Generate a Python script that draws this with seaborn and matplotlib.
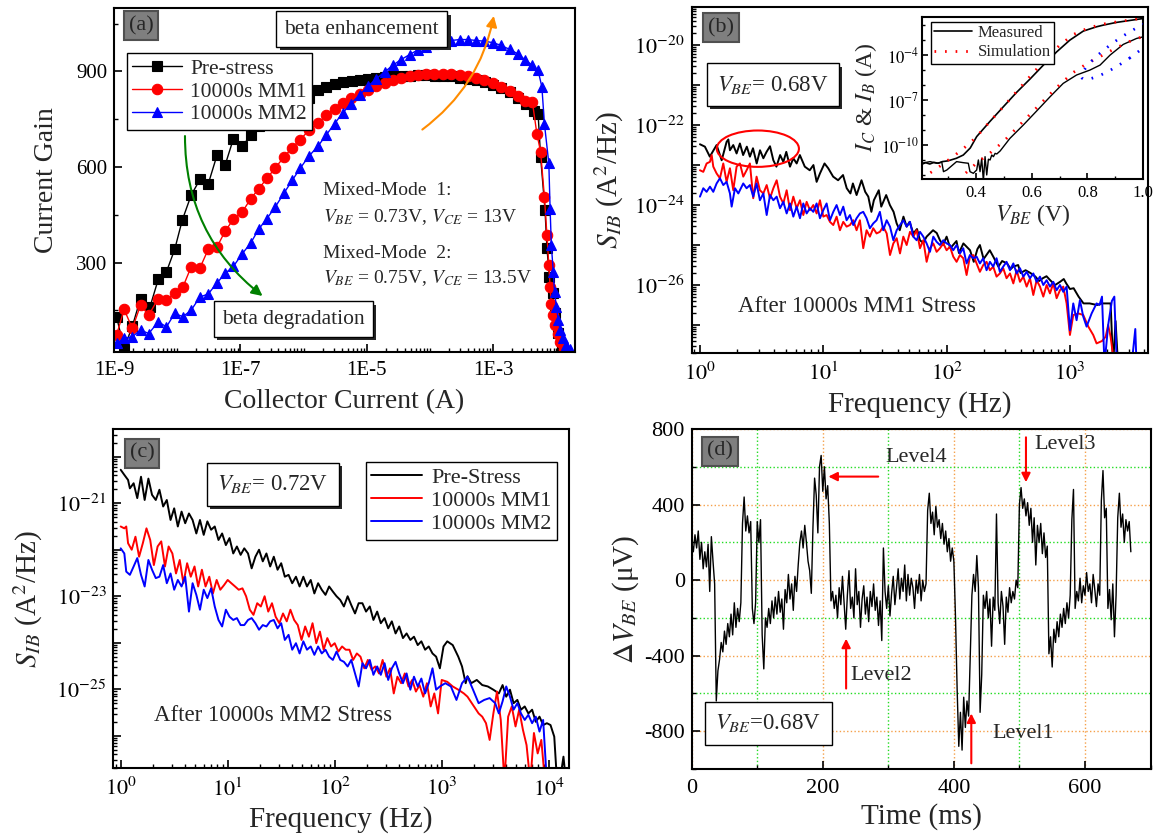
import numpy as np
import matplotlib
matplotlib.use("Agg")
import matplotlib.pyplot as plt
import seaborn as sns
from matplotlib.patches import Ellipse, FancyArrowPatch
from matplotlib import patheffects as pe
from matplotlib.ticker import (FixedLocator, LogLocator, NullFormatter,
                               MultipleLocator, FuncFormatter, AutoMinorLocator)

# ---------------- data: panel (a) current gain vs collector current ----------------
logI_pre = [-8.96, -8.84, -8.71, -8.58, -8.43, -8.30, -8.17, -8.04, -7.92, -7.78,
            -7.64, -7.51, -7.37, -7.24, -7.11, -6.97, -6.84, -6.71, -6.58, -6.45,
            -6.32, -6.19, -6.05, -5.92, -5.77, -5.64, -5.51, -5.38, -5.24, -5.11,
            -4.98, -4.85, -4.72, -4.58, -4.45, -4.32, -4.19, -4.05, -3.92, -3.79,
            -3.66, -3.52, -3.39, -3.26, -3.13, -3.00, -2.87, -2.74, -2.61, -2.48,
            -2.35, -2.29, -2.25, -2.18, -2.15, -2.11, -2.06, -2.03, -1.98, -1.91]
gain_pre = [130, 30, 100, 187, 161, 247, 271, 341, 433, 511,
            561, 546, 637, 607, 689, 665, 699, 730, 750, 770,
            785, 800, 810, 817, 843, 852, 860, 866, 870, 874,
            877, 880, 882, 884, 886, 887, 888, 888, 887, 886,
            884, 880, 876, 872, 866, 858, 848, 835, 818, 798,
            776, 767, 631, 464, 345, 255, 204, 140, 78, 35]

logI_mm1 = [-8.96, -8.84, -8.71, -8.58, -8.45, -8.30, -8.17, -8.04, -7.91, -7.78,
            -7.64, -7.51, -7.37, -7.24, -7.11, -6.97, -6.84, -6.71, -6.58, -6.45,
            -6.31, -6.18, -6.05, -5.92, -5.77, -5.64, -5.51, -5.38, -5.25, -5.11,
            -4.98, -4.85, -4.72, -4.59, -4.46, -4.32, -4.19, -4.06, -3.93, -3.80,
            -3.67, -3.53, -3.40, -3.27, -3.14, -3.00, -2.88, -2.74, -2.61, -2.50,
            -2.38, -2.31, -2.25, -2.19, -2.15, -2.12, -2.10, -2.08, -2.05, -2.02,
            -1.98, -1.94, -1.88]
gain_mm1 = [72, 153, 93, 166, 135, 187, 182, 203, 223, 286,
            283, 341, 349, 399, 436, 459, 499, 532, 564, 597,
            631, 661, 686, 715, 738, 762, 783, 801, 817, 830,
            843, 854, 863, 872, 879, 884, 888, 892, 893, 893,
            892, 888, 884, 879, 872, 863, 852, 839, 823, 807,
            804, 705, 647, 506, 386, 292, 224, 171, 135, 103,
            77, 51, 30]

logI_mm2 = [-8.96, -8.84, -8.71, -8.58, -8.45, -8.30, -8.17, -8.04, -7.91, -7.78,
            -7.64, -7.51, -7.37, -7.24, -7.11, -6.97, -6.84, -6.71, -6.58, -6.45,
            -6.31, -6.18, -6.05, -5.92, -5.77, -5.64, -5.51, -5.38, -5.25, -5.11,
            -4.98, -4.85, -4.72, -4.59, -4.46, -4.32, -4.19, -4.06, -3.93, -3.80,
            -3.67, -3.53, -3.40, -3.27, -3.14, -3.00, -2.88, -2.74, -2.61, -2.50,
            -2.38, -2.29, -2.23, -2.19, -2.12, -2.10, -2.08, -2.05, -2.03, -2.00,
            -1.97, -1.94, -1.90, -1.85, -1.79]
gain_mm2 = [46, 62, 67, 88, 77, 114, 98, 140, 130, 150,
            192, 201, 236, 266, 288, 328, 360, 405, 438, 474,
            518, 558, 597, 633, 666, 701, 736, 770, 799, 827,
            853, 877, 898, 919, 937, 953, 968, 978, 987, 994,
            997, 1000, 1000, 997, 995, 990, 982, 969, 955, 937,
            919, 903, 851, 736, 611, 469, 354, 271, 208, 161,
            119, 88, 62, 41, 27]

# ---------------- data: panel (b) noise spectra at VBE=0.68V (log10 f, log10 S) ----------------
lf_b_pre = [0.00, 0.04, 0.08, 0.11, 0.135, 0.176, 0.216, 0.23, 0.243, 0.27,
            0.297, 0.324, 0.35, 0.38, 0.405, 0.43, 0.46, 0.487, 0.514, 0.54,
            0.568, 0.595, 0.62, 0.65, 0.676, 0.70, 0.73, 0.757, 0.784, 0.81,
            0.85, 0.89, 0.92, 0.946, 0.973, 1.01, 1.04, 1.08, 1.12, 1.16,
            1.19, 1.22, 1.24, 1.27, 1.31, 1.34, 1.365, 1.39, 1.41, 1.45,
            1.47, 1.51, 1.54, 1.57, 1.595, 1.62, 1.65, 1.676, 1.70, 1.73,
            1.76, 1.784, 1.81, 1.838, 1.89, 1.92, 1.946, 1.97, 2.00, 2.03,
            2.08, 2.10, 2.136, 2.19, 2.22, 2.25, 2.27, 2.30, 2.35, 2.38,
            2.42, 2.45, 2.49, 2.52, 2.54, 2.58, 2.60, 2.64, 2.68, 2.72,
            2.75, 2.78, 2.81, 2.84, 2.88, 2.92, 2.95, 2.97, 3.00, 3.03,
            3.07, 3.11, 3.16, 3.22, 3.26, 3.30, 3.33, 3.35, 3.37, 3.39]
ls_b_pre = [-22.48, -22.54, -22.79, -22.63, -22.50, -22.88, -22.42, -22.36, -22.63, -22.50,
            -22.71, -22.46, -22.75, -22.54, -22.79, -22.58, -22.96, -22.63, -22.83, -22.67,
            -22.53, -22.88, -23.04, -22.75, -22.92, -22.67, -23.04, -22.83, -22.96, -22.75,
            -23.04, -23.13, -23.00, -23.42, -23.21, -22.96, -23.08, -23.29, -23.38, -23.25,
            -23.58, -23.71, -23.46, -23.75, -23.38, -23.67, -23.79, -24.17, -23.88, -23.63,
            -24.04, -23.75, -24.00, -24.17, -24.46, -24.63, -24.29, -24.54, -24.42, -24.71,
            -24.60, -24.88, -24.95, -24.79, -24.63, -24.70, -24.88, -25.00, -24.79, -25.08,
            -24.90, -25.20, -24.96, -25.13, -25.42, -25.10, -25.00, -25.35, -25.13, -25.30,
            -25.54, -25.40, -25.46, -25.60, -25.54, -25.50, -25.70, -25.63, -25.70, -25.79,
            -25.90, -25.83, -25.78, -25.88, -26.00, -25.92, -25.85, -25.96, -26.10, -26.08,
            -26.29, -26.46, -26.46, -26.50, -26.46, -26.46, -26.46, -28.00, -26.90, -28.00]

lf_b_mm1 = [0.000, 0.027, 0.054, 0.081, 0.095, 0.108, 0.135, 0.162, 0.189, 0.216,
            0.243, 0.270, 0.297, 0.324, 0.351, 0.378, 0.405, 0.432, 0.459, 0.486,
            0.514, 0.541, 0.568, 0.595, 0.622, 0.649, 0.676, 0.703, 0.730, 0.757,
            0.784, 0.811, 0.838, 0.865, 0.892, 0.919, 0.946, 0.973, 1.000, 1.027,
            1.054, 1.081, 1.108, 1.135, 1.162, 1.189, 1.216, 1.243, 1.270, 1.297,
            1.324, 1.351, 1.378, 1.405, 1.432, 1.459, 1.486, 1.514, 1.541, 1.568,
            1.595, 1.622, 1.649, 1.676, 1.703, 1.730, 1.757, 1.784, 1.811, 1.838,
            1.865, 1.892, 1.919, 1.946, 1.973, 2.000, 2.027, 2.054, 2.081, 2.108,
            2.135, 2.162, 2.189, 2.216, 2.243, 2.270, 2.297, 2.324, 2.351, 2.378,
            2.405, 2.432, 2.459, 2.486, 2.514, 2.541, 2.568, 2.595, 2.622, 2.649,
            2.676, 2.703, 2.730, 2.757, 2.784, 2.811, 2.838, 2.865, 2.892, 2.919,
            2.946, 2.973, 3.000, 3.027, 3.068, 3.108, 3.149, 3.189, 3.216, 3.260,
            3.290, 3.310, 3.330, 3.360]
ls_b_mm1 = [-23.13, -23.17, -22.96, -22.92, -22.75, -23.04, -23.21, -23.33, -22.96, -23.42,
            -23.08, -23.63, -23.04, -22.96, -23.29, -23.13, -22.96, -23.83, -23.29, -23.63,
            -23.71, -23.50, -23.83, -23.58, -23.38, -23.79, -23.96, -23.63, -24.13, -23.79,
            -24.08, -23.88, -24.25, -23.92, -24.13, -24.00, -24.21, -23.88, -24.29, -24.25,
            -24.42, -24.50, -24.29, -24.63, -24.42, -24.54, -24.50, -24.38, -24.63, -24.38,
            -25.08, -24.63, -24.79, -24.58, -24.71, -24.67, -24.54, -24.71, -25.25, -24.96,
            -24.83, -25.21, -24.79, -25.00, -24.67, -24.79, -24.63, -25.08, -24.88, -25.42,
            -25.08, -24.96, -25.17, -25.08, -24.96, -25.13, -25.04, -25.29, -25.42, -25.25,
            -25.33, -25.75, -25.29, -25.25, -25.46, -25.67, -25.50, -25.42, -25.63, -25.54,
            -25.79, -25.71, -25.58, -25.83, -25.71, -25.96, -25.63, -25.92, -25.79, -26.04,
            -25.83, -26.25, -25.88, -26.04, -26.29, -26.00, -26.21, -25.96, -26.33, -26.13,
            -26.04, -26.46, -27.25, -26.75, -26.71, -26.75, -27.04, -27.25, -27.46, -27.40,
            -27.29, -27.00, -27.30, -28.00]

lf_b_mm2 = [0.000, 0.027, 0.054, 0.081, 0.108, 0.135, 0.162, 0.189, 0.216, 0.243,
            0.257, 0.284, 0.311, 0.351, 0.378, 0.405, 0.432, 0.459, 0.486, 0.514,
            0.541, 0.568, 0.595, 0.622, 0.649, 0.676, 0.703, 0.730, 0.757, 0.784,
            0.811, 0.838, 0.865, 0.892, 0.919, 0.946, 0.973, 1.000, 1.027, 1.054,
            1.081, 1.108, 1.135, 1.162, 1.189, 1.216, 1.243, 1.270, 1.297, 1.324,
            1.351, 1.378, 1.405, 1.432, 1.459, 1.486, 1.514, 1.541, 1.568, 1.595,
            1.622, 1.649, 1.676, 1.703, 1.730, 1.757, 1.784, 1.811, 1.838, 1.865,
            1.892, 1.919, 1.946, 1.973, 2.000, 2.027, 2.054, 2.081, 2.108, 2.135,
            2.162, 2.189, 2.216, 2.243, 2.270, 2.297, 2.324, 2.351, 2.378, 2.405,
            2.432, 2.459, 2.486, 2.514, 2.541, 2.568, 2.595, 2.622, 2.649, 2.676,
            2.703, 2.730, 2.757, 2.784, 2.811, 2.838, 2.865, 2.892, 2.919, 2.946,
            2.973, 3.000, 3.027, 3.054, 3.081, 3.108, 3.135, 3.176, 3.216, 3.240,
            3.260, 3.280, 3.310, 3.340, 3.360, 3.380, 3.500, 3.530, 3.540]
ls_b_mm2 = [-23.79, -23.58, -23.67, -23.54, -23.67, -23.46, -23.33, -23.50, -23.42, -23.71,
            -24.04, -23.58, -23.71, -23.46, -23.58, -23.50, -23.79, -23.46, -23.88, -23.71,
            -24.25, -23.75, -23.88, -23.79, -24.08, -23.92, -24.21, -23.96, -24.29, -24.04,
            -24.33, -23.96, -24.21, -24.08, -24.17, -23.96, -24.33, -24.13, -23.96, -24.38,
            -24.17, -24.00, -24.25, -24.04, -24.38, -24.25, -24.50, -24.33, -24.21, -24.17,
            -24.33, -24.58, -24.46, -24.38, -24.17, -24.63, -24.38, -24.54, -24.88, -24.63,
            -24.50, -24.38, -24.54, -24.42, -24.79, -24.88, -24.67, -24.79, -24.96, -25.17,
            -24.79, -24.92, -25.00, -24.88, -24.96, -25.00, -25.13, -25.00, -25.21, -25.08,
            -25.46, -25.25, -25.33, -25.29, -25.46, -25.33, -25.63, -25.42, -25.54, -25.33,
            -25.67, -25.54, -25.42, -25.63, -25.46, -25.71, -25.58, -25.79, -25.67, -25.83,
            -25.71, -25.92, -25.79, -26.00, -25.88, -26.04, -25.92, -26.13, -26.00, -26.17,
            -26.04, -27.13, -26.46, -26.88, -26.38, -26.79, -27.04, -26.71, -26.46, -26.50,
            -26.29, -28.00, -27.00, -26.40, -26.29, -28.00, -28.00, -27.10, -28.00]

# inset of (b): Gummel plot (VBE in V, log10 current in A)
vbe_ic_meas = [0.206, 0.22, 0.235, 0.25, 0.265, 0.28, 0.30, 0.33, 0.355, 0.38,
               0.403, 0.45, 0.499, 0.546, 0.594, 0.642, 0.69, 0.737, 0.785, 0.833,
               0.857, 0.904, 0.952, 1.0]
logic_meas = [-11.29, -11.18, -11.27, -11.16, -11.22, -11.11, -11.06, -10.89, -10.67, -10.2,
              -9.44, -8.44, -7.44, -6.49, -5.60, -4.67, -3.78, -3.00, -2.40, -2.11,
              -2.00, -1.82, -1.69, -1.56]
vbe_ib_meas = [0.206, 0.236, 0.26, 0.278, 0.284, 0.296, 0.331, 0.355, 0.373, 0.379,
               0.391, 0.403, 0.409, 0.415, 0.421, 0.427, 0.433, 0.439, 0.445, 0.451,
               0.457, 0.463, 0.469, 0.475, 0.487, 0.522, 0.57, 0.618, 0.666, 0.713,
               0.761, 0.809, 0.845, 0.881, 0.928, 0.976, 1.0]
logib_meas = [-11.22, -11.11, -11.22, -11.15, -11.78, -11.67, -11.11, -11.18, -11.22, -11.78,
              -11.89, -11.67, -11.00, -11.78, -10.89, -12.40, -10.78, -12.00, -10.95, -11.00,
              -10.67, -10.78, -10.56, -10.60, -10.40, -9.56, -8.67, -7.73, -6.78, -5.89,
              -5.33, -5.00, -4.67, -4.00, -3.29, -2.89, -2.78]
vbe_sim = [0.206, 0.22, 0.25, 0.28, 0.30, 0.32, 0.35, 0.38, 0.403, 0.45,
           0.50, 0.55, 0.60, 0.65, 0.70, 0.75, 0.80, 0.85, 0.90, 0.95, 1.0]
logic_sim = [-12.25, -12.05, -11.70, -11.30, -11.02, -10.75, -10.32, -9.85, -9.44, -8.44,
             -7.42, -6.35, -5.30, -4.28, -3.35, -2.62, -2.22, -1.95, -1.80, -1.67, -1.53]
logib_sim = [-14.9, -14.6, -14.0, -13.4, -13.0, -12.6, -12.1, -11.6, -11.2, -10.55,
             -9.75, -8.80, -7.85, -6.90, -5.98, -5.15, -4.55, -4.05, -3.55, -3.10, -2.75]

# ---------------- data: panel (c) noise spectra at VBE=0.72V ----------------
lf_c_pre = [0.000, 0.034, 0.069, 0.086, 0.121, 0.155, 0.190, 0.224, 0.259, 0.293,
            0.328, 0.362, 0.397, 0.431, 0.466, 0.500, 0.534, 0.569, 0.603, 0.638,
            0.672, 0.707, 0.741, 0.776, 0.810, 0.845, 0.879, 0.914, 0.948, 0.983,
            1.017, 1.052, 1.086, 1.121, 1.155, 1.190, 1.224, 1.259, 1.293, 1.328,
            1.362, 1.397, 1.431, 1.466, 1.500, 1.534, 1.569, 1.603, 1.638, 1.672,
            1.707, 1.741, 1.776, 1.810, 1.845, 1.879, 1.914, 1.948, 1.983, 2.017,
            2.052, 2.086, 2.121, 2.155, 2.190, 2.224, 2.259, 2.293, 2.328, 2.362,
            2.397, 2.431, 2.466, 2.500, 2.534, 2.569, 2.603, 2.638, 2.672, 2.707,
            2.741, 2.776, 2.810, 2.845, 2.879, 2.914, 2.948, 2.983, 3.017, 3.052,
            3.103, 3.155, 3.190, 3.224, 3.241, 3.276, 3.328, 3.379, 3.431, 3.483,
            3.534, 3.569, 3.603, 3.638, 3.672, 3.707, 3.741, 3.776, 3.810, 3.845,
            3.879, 3.914, 3.948, 3.983, 4.017, 4.052, 4.069, 4.103, 4.138, 4.162]
ls_c_pre = [-20.28, -20.39, -20.50, -20.68, -20.57, -20.89, -20.43, -20.93, -20.47, -20.82,
            -20.93, -20.71, -21.07, -20.93, -21.36, -21.11, -21.50, -21.18, -21.43, -21.22,
            -21.36, -21.65, -21.36, -21.68, -21.39, -21.57, -21.50, -21.79, -21.65, -21.90,
            -21.75, -22.08, -21.93, -22.11, -21.97, -22.08, -22.40, -22.15, -22.00, -22.25,
            -22.08, -22.36, -22.15, -22.43, -22.29, -22.58, -22.54, -22.72, -22.58, -22.79,
            -22.58, -22.79, -22.65, -22.94, -22.72, -22.86, -22.97, -22.79, -22.90, -23.00,
            -23.08, -23.22, -23.00, -23.19, -23.37, -23.15, -23.15, -23.33, -23.22, -23.51,
            -23.33, -23.58, -23.47, -23.69, -23.54, -23.80, -23.65, -23.90, -23.80, -23.94,
            -23.87, -24.05, -23.97, -24.15, -24.08, -24.23, -24.30, -24.55, -24.08, -23.97,
            -24.05, -24.30, -24.51, -24.87, -24.72, -24.87, -24.80, -24.91, -24.94, -25.01,
            -25.09, -24.91, -25.16, -25.01, -25.30, -25.23, -25.44, -25.37, -25.52, -25.44,
            -25.70, -25.59, -25.77, -25.73, -25.77, -26.02, -26.66, -27.00, -26.45, -27.00]

lf_c_mm1 = [0.000, 0.034, 0.052, 0.069, 0.103, 0.138, 0.172, 0.207, 0.241, 0.276,
            0.310, 0.345, 0.379, 0.414, 0.448, 0.483, 0.517, 0.552, 0.586, 0.621,
            0.655, 0.690, 0.724, 0.759, 0.793, 0.828, 0.862, 0.897, 0.931, 0.966,
            1.000, 1.034, 1.069, 1.103, 1.138, 1.172, 1.207, 1.241, 1.276, 1.310,
            1.345, 1.379, 1.414, 1.448, 1.483, 1.517, 1.552, 1.586, 1.621, 1.655,
            1.690, 1.724, 1.759, 1.793, 1.828, 1.862, 1.897, 1.931, 1.966, 2.000,
            2.034, 2.069, 2.103, 2.138, 2.172, 2.207, 2.241, 2.276, 2.310, 2.345,
            2.379, 2.414, 2.448, 2.483, 2.517, 2.552, 2.586, 2.621, 2.655, 2.690,
            2.724, 2.759, 2.793, 2.828, 2.862, 2.897, 2.931, 2.966, 3.000, 3.052,
            3.103, 3.155, 3.207, 3.241, 3.293, 3.345, 3.379, 3.414, 3.448, 3.483,
            3.517, 3.552, 3.586, 3.621, 3.655, 3.690, 3.724, 3.759, 3.793, 3.828,
            3.862, 3.897, 3.931, 3.966]
ls_c_mm1 = [-21.50, -21.54, -21.50, -21.86, -22.00, -21.72, -22.15, -21.86, -21.54, -21.79,
            -22.33, -21.93, -21.82, -22.36, -21.93, -22.08, -22.51, -22.22, -22.72, -22.29,
            -22.58, -22.36, -22.79, -22.43, -22.79, -22.58, -22.94, -22.65, -22.86, -22.76,
            -22.65, -22.72, -22.79, -22.86, -22.83, -23.00, -23.29, -23.40, -23.15, -23.22,
            -23.00, -23.33, -23.15, -23.44, -23.58, -23.37, -23.54, -23.29, -23.51, -23.62,
            -23.94, -23.65, -23.87, -23.58, -24.01, -23.76, -24.15, -23.90, -24.08, -24.01,
            -24.19, -24.08, -24.15, -24.15, -24.37, -24.23, -24.30, -24.55, -24.37, -24.58,
            -24.51, -24.66, -24.37, -24.73, -24.55, -25.09, -24.73, -24.87, -24.66, -24.94,
            -24.80, -25.05, -24.91, -25.16, -24.87, -25.37, -25.09, -25.52, -24.80, -24.84,
            -24.94, -25.01, -25.09, -25.16, -25.34, -25.52, -25.59, -25.73, -26.09, -25.52,
            -25.05, -25.66, -27.00, -25.59, -25.37, -25.80, -25.44, -25.87, -26.20, -27.00,
            -25.94, -26.38, -26.09, -27.00]

lf_c_mm2 = [0.000, 0.034, 0.052, 0.086, 0.121, 0.155, 0.190, 0.224, 0.259, 0.293,
            0.328, 0.362, 0.397, 0.431, 0.466, 0.500, 0.534, 0.569, 0.603, 0.638,
            0.672, 0.707, 0.741, 0.776, 0.810, 0.845, 0.879, 0.914, 0.948, 0.983,
            1.017, 1.052, 1.086, 1.121, 1.155, 1.190, 1.224, 1.259, 1.293, 1.328,
            1.362, 1.397, 1.431, 1.466, 1.500, 1.534, 1.569, 1.603, 1.638, 1.672,
            1.707, 1.741, 1.776, 1.810, 1.845, 1.879, 1.914, 1.948, 1.983, 2.017,
            2.052, 2.086, 2.121, 2.155, 2.190, 2.224, 2.259, 2.293, 2.328, 2.362,
            2.397, 2.431, 2.466, 2.500, 2.534, 2.569, 2.603, 2.638, 2.672, 2.707,
            2.741, 2.776, 2.810, 2.845, 2.879, 2.914, 2.948, 2.983, 3.034, 3.086,
            3.138, 3.190, 3.241, 3.293, 3.345, 3.397, 3.448, 3.500, 3.534, 3.569,
            3.603, 3.638, 3.672, 3.707, 3.741, 3.776, 3.810, 3.845, 3.879, 3.914,
            3.948, 3.983]
ls_c_mm2 = [-21.97, -22.08, -22.47, -22.54, -22.36, -22.18, -22.54, -22.79, -22.22, -22.43,
            -22.61, -22.58, -22.33, -22.72, -22.51, -22.86, -22.65, -22.79, -22.58, -23.33,
            -22.72, -22.97, -23.29, -22.86, -23.04, -22.83, -23.22, -23.51, -23.65, -23.29,
            -23.44, -23.51, -23.47, -23.62, -23.62, -23.51, -23.47, -23.58, -23.72, -23.62,
            -23.65, -23.54, -23.51, -23.69, -23.58, -23.94, -23.83, -24.15, -24.01, -24.23,
            -23.97, -24.15, -24.08, -24.26, -24.08, -24.23, -24.15, -24.30, -24.37, -24.19,
            -24.37, -24.41, -24.51, -24.37, -24.66, -24.94, -24.44, -24.55, -24.37, -24.69,
            -24.51, -24.69, -24.44, -24.80, -24.55, -24.41, -24.66, -24.87, -24.66, -25.01,
            -24.73, -24.94, -24.77, -25.09, -24.87, -24.55, -25.01, -24.94, -24.87, -24.94,
            -25.23, -24.87, -24.73, -25.01, -25.30, -25.23, -25.19, -25.30, -25.52, -25.26,
            -24.94, -25.16, -25.44, -25.30, -25.52, -25.66, -25.55, -25.73, -25.59, -25.91,
            -25.66, -27.00]

# ---------------- data: panel (d) RTS trace ----------------
sample_period_ms = 2.5
dvbe_uV = [200, 150, 240, 170, 260, 110, 200, 60, 150, 70,
           190, -60, 230, 100, -20, -640, -480, -420, -330, -380,
           -270, -340, -230, -300, -180, -290, -120, -250, -150, -220,
           -120, 300, 440, 260, 340, 250, 310, -150, -230, -120,
           310, 200, 320, -290, -470, -200, -250, -150, -230, -110,
           -200, -90, -180, -60, -170, -100, -260, -50, -120, 30,
           -100, -20, -160, 20, -60, 80, 200, 260, 170, 290,
           200, 100, 50, -70, 280, 540, 450, 250, 600, 660,
           470, 600, 430, 500, 300, -110, -60, -150, -80, -200,
           -40, -130, 20, -120, -260, -80, 50, -150, -90, -200,
           60, -130, -60, -250, -100, -30, -180, -90, -220, -60,
           -140, -20, -160, -90, -240, -110, -320, 170, -60, -150,
           -30, -190, -70, 20, -130, -40, 60, -100, 10, -60,
           80, -110, 30, -80, 10, -40, -150, 0, -70, 30,
           -110, 0, -60, -20, 370, 460, 300, 360, 240, 390,
           280, 320, 220, 300, 190, 260, 150, 220, 100, 170,
           100, -200, -580, -880, -700, -900, -620, -780, -640, -720,
           -390, -80, 30, -60, 130, -40, -700, -500, -80, -150,
           -60, -200, -100, -350, -90, -160, 350, -120, -230, -60,
           -140, -340, -90, -170, -40, -120, -60, -100, 0, -40,
           400, 490, 380, 430, 340, 410, 290, 380, 200, 330,
           80, 290, 200, 300, 140, 250, 120, 180, -390, -300,
           -460, -260, -330, -220, -300, -180, -250, -150, -230, -120,
           -200, -80, 320, 480, -150, -60, -110, 10, -120, -30,
           -80, 40, -60, -20, -120, 30, -50, -140, -20, -80,
           420, 580, 330, 380, -150, -50, -210, -20, -300, -80,
           330, 460, 280, 350, 200, 320, 260, 310, 150]
level_labels = ["Level1", "Level2", "Level3", "Level4"]
legend_a = ["Pre-stress", "10000s MM1", "10000s MM2"]
legend_c = ["Pre-Stress", "10000s MM1", "10000s MM2"]

# ---------------- style ----------------
sns.set_theme(style="white")
plt.rcParams["font.family"] = ["Liberation Serif", "DejaVu Serif"]
plt.rcParams["mathtext.fontset"] = "stix"
plt.rcParams["axes.unicode_minus"] = False

W, H = 1158, 839
fig = plt.figure(figsize=(W / 100, H / 100), dpi=100)
fig.patch.set_facecolor("white")


def px_axes(l, t, r, b):
    return fig.add_axes([l / W, 1 - b / H, (r - l) / W, (b - t) / H])


def style(ax, fs):
    ax.set_facecolor("white")
    ax.grid(False)
    for s in ax.spines.values():
        s.set_visible(True)
        s.set_linewidth(1.5)
        s.set_color("black")
    ax.tick_params(which="both", direction="in", top=False, right=False,
                   left=True, bottom=True, colors="black", labelsize=fs)
    ax.tick_params(which="major", length=6, width=1.2)
    ax.tick_params(which="minor", length=3, width=1.0)


def panel_label(ax, x, y, s):
    ax.text(x, y, s, transform=ax.transAxes, fontsize=16, ha="center", va="center",
            bbox=dict(boxstyle="square,pad=0.22", fc="#7f7f7f", ec="#505050", lw=1.5),
            zorder=8)


def boxed(ax, x, y, s, fs, pad=0.35, shadow=True):
    t = ax.text(x, y, s, transform=ax.transAxes, fontsize=fs, ha="center", va="center",
                bbox=dict(boxstyle="square,pad=%g" % pad, fc="white", ec="black", lw=1.0),
                zorder=7)
    if shadow:
        t.get_bbox_patch().set_path_effects(
            [pe.withSimplePatchShadow(offset=(2.5, -2.5), shadow_rgbFace="0.15", alpha=1.0)])
    return t


def pow10_fmt(show):
    def f(v, p):
        e = int(round(np.log10(v)))
        return r"$10^{%d}$" % e if show(e) else ""
    return FuncFormatter(f)


# ================= panel (a) =================
axA = px_axes(114, 7.7, 575, 351.7)
style(axA, 15)
series_a = [(logI_pre, gain_pre, "black", "s"),
            (logI_mm1, gain_mm1, "red", "o"),
            (logI_mm2, gain_mm2, "blue", "^")]
for (lx, g, c, m), lab in zip(series_a, legend_a):
    sns.lineplot(x=10 ** np.array(lx), y=np.array(g, float), ax=axA, color=c, marker=m,
                 markersize=7.5, markeredgecolor=c, markeredgewidth=0.8, linewidth=1.0,
                 sort=False, estimator=None, label=lab)
axA.set_xscale("log")
axA.set_xlim(1e-9, 10 ** -1.706)
axA.set_ylim(20, 1100)
axA.xaxis.set_major_locator(FixedLocator([1e-9, 1e-7, 1e-5, 1e-3]))
axA.xaxis.set_major_formatter(FuncFormatter(lambda v, p: "1E%d" % int(round(np.log10(v)))))
axA.xaxis.set_minor_locator(LogLocator(base=10, subs=np.arange(1, 10), numticks=100))
axA.xaxis.set_minor_formatter(NullFormatter())
axA.yaxis.set_major_locator(MultipleLocator(300))
axA.yaxis.set_minor_locator(AutoMinorLocator(2))
axA.tick_params(axis="x", which="both", pad=7)
axA.tick_params(axis="y", which="both", pad=5)
axA.set_xlabel("Collector Current (A)", fontsize=20, labelpad=6)
axA.set_ylabel("Current Gain", fontsize=20, labelpad=12)
legA = axA.legend(loc="upper left", bbox_to_anchor=(0.028, 0.867), borderaxespad=0,
                  fontsize=15.5, frameon=True, fancybox=False, edgecolor="black",
                  framealpha=1, handlelength=2.3, handletextpad=0.4, labelspacing=0.12,
                  borderpad=0.25)
legA.get_frame().set_linewidth(1.0)
panel_label(axA, 0.059, 0.947, "(a)")
boxed(axA, 0.537, 0.938, "beta enhancement", 15.5, pad=0.38)
boxed(axA, 0.389, 0.095, "beta degradation", 15.5, pad=0.38)
axA.add_patch(FancyArrowPatch((0.154, 0.635), (0.327, 0.157), transform=axA.transAxes,
                              connectionstyle="arc3,rad=0.25", arrowstyle="-|>",
                              mutation_scale=16, color="#008000", lw=1.5, zorder=6))
axA.add_patch(FancyArrowPatch((0.664, 0.641), (0.825, 0.984), transform=axA.transAxes,
                              connectionstyle="arc3,rad=0.2", arrowstyle="-|>",
                              mutation_scale=16, color="#ff8c00", lw=1.5, zorder=6))
axA.text(0.454, 0.468, "Mixed-Mode  1:", transform=axA.transAxes, fontsize=14,
         ha="left", va="center")
axA.text(0.454, 0.392, r"$V_{BE}$ = 0.73V, $V_{CE}$ = 13V", transform=axA.transAxes,
         fontsize=14, ha="left", va="center")
axA.text(0.454, 0.286, "Mixed-Mode  2:", transform=axA.transAxes, fontsize=14,
         ha="left", va="center")
axA.text(0.454, 0.213, r"$V_{BE}$ = 0.75V, $V_{CE}$ = 13.5V", transform=axA.transAxes,
         fontsize=14, ha="left", va="center")

# ================= panel (b) =================
axB = px_axes(691.7, 6.7, 1148, 353)
style(axB, 16)
for lf, ls, c in [(lf_b_pre, ls_b_pre, "black"), (lf_b_mm1, ls_b_mm1, "red"),
                  (lf_b_mm2, ls_b_mm2, "blue")]:
    sns.lineplot(x=10 ** np.array(lf), y=10 ** np.array(ls), ax=axB, color=c,
                 linewidth=1.4, sort=False, estimator=None)
axB.set_xscale("log")
axB.set_yscale("log")
axB.set_xlim(10 ** -0.067, 10 ** 3.633)
axB.set_ylim(10 ** -27.7, 10 ** -19.04)
axB.xaxis.set_major_locator(FixedLocator([1, 10, 100, 1000]))
axB.xaxis.set_major_formatter(pow10_fmt(lambda e: True))
axB.xaxis.set_minor_locator(LogLocator(base=10, subs=np.arange(2, 10), numticks=100))
axB.xaxis.set_minor_formatter(NullFormatter())
axB.yaxis.set_major_locator(FixedLocator(10.0 ** np.arange(-27, -18)))
axB.yaxis.set_major_formatter(pow10_fmt(lambda e: e % 2 == 0))
axB.yaxis.set_minor_locator(LogLocator(base=10, subs=np.arange(2, 10), numticks=100))
axB.yaxis.set_minor_formatter(NullFormatter())
axB.tick_params(axis="x", which="both", pad=7)
axB.tick_params(axis="y", which="both", pad=5)
axB.set_xlabel("Frequency (Hz)", fontsize=21, labelpad=4)
axB.set_ylabel(r"$S_{IB}$ (A$^{2}$/Hz)", fontsize=21, labelpad=6)
panel_label(axB, 0.065, 0.94, "(b)")
boxed(axB, 0.178, 0.775, r"$V_{BE}$= 0.68V", 16.5, pad=0.45)
axB.add_patch(Ellipse((0.145, 0.59), 0.18, 0.105, transform=axB.transAxes, fill=False,
                      ec="red", lw=1.5, zorder=6))
axB.text(0.363, 0.134, "After 10000s MM1 Stress", transform=axB.transAxes, fontsize=16.5,
         ha="center", va="center")

# inset
axI = px_axes(921.7, 16.7, 1143.3, 179)
style(axI, 12)
axI.tick_params(which="major", length=4)
axI.tick_params(which="minor", length=2)
sns.lineplot(x=vbe_ic_meas, y=10 ** np.array(logic_meas), ax=axI, color="black",
             linewidth=1.2, sort=False, estimator=None, label="Measured")
sns.lineplot(x=vbe_ib_meas, y=10 ** np.array(logib_meas), ax=axI, color="black",
             linewidth=1.0, sort=False, estimator=None)
sns.lineplot(x=vbe_sim, y=10 ** np.array(logic_sim), ax=axI, color="red", linewidth=2.0,
             linestyle=(0, (0.6, 3.2)), sort=False, estimator=None, label="Simulation")
sns.lineplot(x=vbe_sim, y=10 ** np.array(logib_sim), ax=axI, color="red", linewidth=2.0,
             linestyle=(0, (0.6, 3.2)), sort=False, estimator=None)
axI.set_yscale("log")
axI.set_xlim(0.206, 1.0)
axI.set_ylim(10 ** -12.27, 10 ** -1.44)
axI.xaxis.set_major_locator(FixedLocator([0.4, 0.6, 0.8, 1.0]))
axI.xaxis.set_major_formatter(FuncFormatter(lambda v, p: "%.1f" % v))
axI.xaxis.set_minor_locator(MultipleLocator(0.1))
axI.yaxis.set_major_locator(FixedLocator([1e-10, 1e-7, 1e-4]))
axI.yaxis.set_major_formatter(pow10_fmt(lambda e: True))
axI.yaxis.set_minor_locator(FixedLocator(10.0 ** np.arange(-12, -1)))
axI.yaxis.set_minor_formatter(NullFormatter())
axI.tick_params(axis="x", which="both", pad=4)
axI.tick_params(axis="y", which="both", pad=2)
axI.set_xlabel(r"$V_{BE}$ (V)", fontsize=17, labelpad=1)
axI.set_ylabel(r"$I_C$ & $I_B$ (A)", fontsize=17, labelpad=1)
legI = axI.legend(loc="upper left", bbox_to_anchor=(0.041, 0.969), borderaxespad=0,
                  fontsize=12, frameon=True, fancybox=False, edgecolor="black",
                  framealpha=1, handlelength=2.3, handletextpad=0.3, labelspacing=0.2,
                  borderpad=0.2)
legI.get_frame().set_linewidth(1.0)
axI.add_patch(Ellipse((11.23, 7.897), 1.0, 0.22, angle=35, transform=fig.dpi_scale_trans,
                      fill=False, ec="blue", lw=2.0, linestyle=(0, (0.6, 3.2)), zorder=5))

# ================= panel (c) =================
axC = px_axes(113.3, 429.3, 568.6, 768.3)
style(axC, 16)
for (lf, ls, c), lab in zip([(lf_c_pre, ls_c_pre, "black"), (lf_c_mm1, ls_c_mm1, "red"),
                             (lf_c_mm2, ls_c_mm2, "blue")], legend_c):
    sns.lineplot(x=10 ** np.array(lf), y=10 ** np.array(ls), ax=axC, color=c,
                 linewidth=1.4, sort=False, estimator=None, label=lab)
axC.set_xscale("log")
axC.set_yscale("log")
axC.set_xlim(10 ** -0.069, 10 ** 4.186)
axC.set_ylim(10 ** -26.70, 10 ** -19.41)
axC.xaxis.set_major_locator(FixedLocator([1, 10, 100, 1000, 10000]))
axC.xaxis.set_major_formatter(pow10_fmt(lambda e: True))
axC.xaxis.set_minor_locator(LogLocator(base=10, subs=np.arange(2, 10), numticks=100))
axC.xaxis.set_minor_formatter(NullFormatter())
axC.yaxis.set_major_locator(FixedLocator(10.0 ** np.arange(-26, -19)))
axC.yaxis.set_major_formatter(pow10_fmt(lambda e: e % 2 != 0))
axC.yaxis.set_minor_locator(LogLocator(base=10, subs=np.arange(2, 10), numticks=100))
axC.yaxis.set_minor_formatter(NullFormatter())
axC.tick_params(axis="x", which="both", pad=7)
axC.tick_params(axis="y", which="both", pad=5)
axC.set_xlabel("Frequency (Hz)", fontsize=21, labelpad=4)
axC.set_ylabel(r"$S_{IB}$ (A$^{2}$/Hz)", fontsize=21, labelpad=8)
legC = axC.legend(loc="upper left", bbox_to_anchor=(0.554, 0.905), borderaxespad=0,
                  fontsize=16, frameon=True, fancybox=False, edgecolor="black",
                  framealpha=1, handlelength=2.3, handletextpad=0.4, labelspacing=0.12,
                  borderpad=0.25)
legC.get_frame().set_linewidth(1.0)
panel_label(axC, 0.063, 0.93, "(c)")
boxed(axC, 0.35, 0.838, r"$V_{BE}$= 0.72V", 16.5, pad=0.45)
axC.text(0.351, 0.157, "After 10000s MM2 Stress", transform=axC.transAxes, fontsize=16.5,
         ha="center", va="center")

# ================= panel (d) =================
axD = px_axes(691.7, 429, 1150.5, 769)
style(axD, 16)
t_ms = np.arange(len(dvbe_uV)) * sample_period_ms
axD.set_axisbelow(True)
sns.lineplot(x=t_ms, y=np.array(dvbe_uV, float), ax=axD, color="black", linewidth=1.0,
             sort=False, estimator=None)
axD.set_xlim(0, 700)
axD.set_ylim(-1000, 800)
axD.xaxis.set_major_locator(MultipleLocator(200))
axD.xaxis.set_minor_locator(MultipleLocator(100))
axD.yaxis.set_major_locator(MultipleLocator(400))
axD.yaxis.set_minor_locator(MultipleLocator(200))
axD.grid(True, which="major", color="#f5a04a", linestyle=":", linewidth=1.0)
axD.grid(True, which="minor", color="#22dd22", linestyle=":", linewidth=1.0)
axD.tick_params(axis="x", which="both", pad=7)
axD.tick_params(axis="y", which="both", pad=5)
axD.set_xlabel("Time (ms)", fontsize=21, labelpad=4)
axD.set_ylabel("$\\Delta V_{BE}$ (\u03bcV)", fontsize=21, labelpad=2)
panel_label(axD, 0.061, 0.935, "(d)")
boxed(axD, 0.167, 0.134, r"$V_{BE}$=0.68V", 16.5, pad=0.45, shadow=False)
arrow_kw = dict(arrowstyle="-|>", color="red", lw=1.5, mutation_scale=13, shrinkA=0, shrinkB=0)
axD.annotate("", xy=(208.5, 548), xytext=(284.6, 548), arrowprops=arrow_kw)
axD.annotate("", xy=(510, 518), xytext=(510, 756), arrowprops=arrow_kw)
axD.annotate("", xy=(235.6, -310), xytext=(235.6, -574), arrowprops=arrow_kw)
axD.annotate("", xy=(426.6, -706), xytext=(426.6, -970), arrowprops=arrow_kw)
axD.text(459, -812, level_labels[0], fontsize=16, ha="left", va="center")
axD.text(242, -503, level_labels[1], fontsize=16, ha="left", va="center")
axD.text(523, 717, level_labels[2], fontsize=16, ha="left", va="center")
axD.text(295, 647, level_labels[3], fontsize=16, ha="left", va="center")

fig.savefig("out.png", dpi=100, facecolor="white")
